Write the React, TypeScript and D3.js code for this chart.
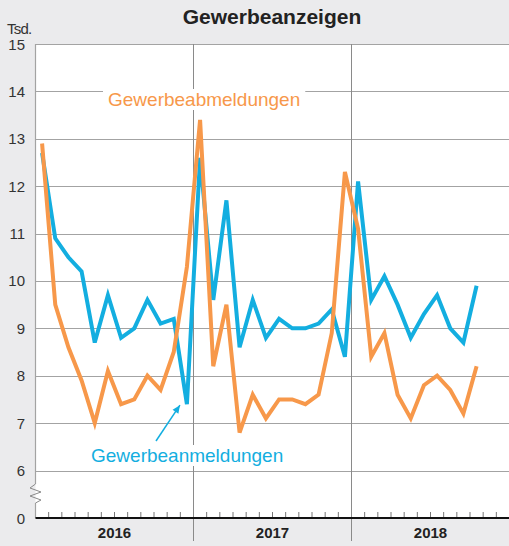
import React, { useEffect, useRef } from 'react';
import * as d3 from 'd3';

const years = ['2016', '2017', '2018'];
const yTicks = [6, 7, 8, 9, 10, 11, 12, 13, 14, 15];
// Gewerbeanmeldungen, Jan 2016 - Okt 2018 (Tsd.)
const anmeldungen = [
  12.7, 10.9, 10.5, 10.2, 8.7, 9.7, 8.8, 9.0, 9.6, 9.1, 9.2, 7.4,
  12.6, 9.6, 11.7, 8.6, 9.6, 8.8, 9.2, 9.0, 9.0, 9.1, 9.4, 8.4,
  12.1, 9.6, 10.1, 9.5, 8.8, 9.3, 9.7, 9.0, 8.7, 9.9,
];
// Gewerbeabmeldungen
const abmeldungen = [
  12.9, 9.5, 8.6, 7.9, 7.0, 8.1, 7.4, 7.5, 8.0, 7.7, 8.5, 10.3,
  13.4, 8.2, 9.5, 6.8, 7.6, 7.1, 7.5, 7.5, 7.4, 7.6, 8.9, 12.3,
  11.1, 8.4, 8.9, 7.6, 7.1, 7.8, 8.0, 7.7, 7.2, 8.2,
];

const BLUE = '#13aee0';
const ORANGE = '#f7984a';
const GRID = '#a3a3a3';
const FONT = 'Liberation Sans, Arial, Helvetica, sans-serif';

const App: React.FC = () => {
  const ref = useRef<SVGSVGElement | null>(null);

  useEffect(() => {
    if (!ref.current) return;
    const width = 509;
    const height = 546;
    const left = 35.5;
    const right = 509.5;
    const top = 44;
    const y6 = 470.5;
    const base = 518;

    const svg = d3.select(ref.current);
    svg.selectAll('*').remove();
    svg.attr('width', width).attr('height', height);

    svg.append('rect').attr('width', width).attr('height', height).attr('fill', '#ebebed');

    const x = d3.scaleLinear().domain([0, 36]).range([left, right]);
    const y = d3.scaleLinear().domain([6, 15]).range([y6, top]);

    // plot area
    svg.append('rect')
      .attr('x', left).attr('y', top)
      .attr('width', right - left).attr('height', base - top)
      .attr('fill', '#fff');

    // horizontal grid
    svg.selectAll('.grid')
      .data(yTicks)
      .enter()
      .append('line')
      .attr('x1', left).attr('x2', right)
      .attr('y1', (d) => Math.round(y(d)) + 0.5)
      .attr('y2', (d) => Math.round(y(d)) + 0.5)
      .attr('stroke', GRID)
      .attr('stroke-width', 1.2);

    // year separators
    svg.selectAll('.yearline')
      .data([12, 24])
      .enter()
      .append('line')
      .attr('x1', (d) => x(d)).attr('x2', (d) => x(d))
      .attr('y1', top).attr('y2', 541)
      .attr('stroke', '#8a8a8a')
      .attr('stroke-width', 1);

    // month ticks
    const months = d3.range(1, 36).filter((m) => m % 12 !== 0);
    svg.selectAll('.mtick')
      .data(months)
      .enter()
      .append('line')
      .attr('x1', (d) => x(d)).attr('x2', (d) => x(d))
      .attr('y1', base - 6).attr('y2', base)
      .attr('stroke', '#777')
      .attr('stroke-width', 1);

    // left axis with break
    svg.append('line')
      .attr('x1', left).attr('x2', left)
      .attr('y1', top).attr('y2', 484)
      .attr('stroke', GRID).attr('stroke-width', 1.2);
    svg.append('line')
      .attr('x1', left).attr('x2', left)
      .attr('y1', 503).attr('y2', base)
      .attr('stroke', GRID).attr('stroke-width', 1.2);
    svg.append('path')
      .attr('d', 'M35.5,484 L30,488 L41,492 L30,496 L41,500 L35.5,503')
      .attr('fill', 'none')
      .attr('stroke', '#8a8a8a')
      .attr('stroke-width', 1);

    // baseline
    svg.append('line')
      .attr('x1', left).attr('x2', right)
      .attr('y1', base).attr('y2', base)
      .attr('stroke', '#111').attr('stroke-width', 2);

    // y labels
    svg.selectAll('.ylab')
      .data(yTicks)
      .enter()
      .append('text')
      .attr('x', 25)
      .attr('y', (d) => y(d) + 5.5)
      .attr('text-anchor', 'end')
      .attr('font-family', FONT)
      .attr('font-size', 15)
      .attr('fill', '#333')
      .text((d) => d);
    svg.append('text')
      .attr('x', 25).attr('y', base + 5.5)
      .attr('text-anchor', 'end')
      .attr('font-family', FONT).attr('font-size', 15).attr('fill', '#333')
      .text('0');
    svg.append('text')
      .attr('x', 7).attr('y', 34)
      .attr('font-family', FONT).attr('font-size', 15).attr('fill', '#333')
      .attr('letter-spacing', -0.8)
      .text('Tsd.');

    // year labels
    svg.selectAll('.ylabel')
      .data(years)
      .enter()
      .append('text')
      .attr('x', (_, i) => x(i * 12 + 6))
      .attr('y', 538)
      .attr('text-anchor', 'middle')
      .attr('font-family', FONT)
      .attr('font-weight', 'bold')
      .attr('font-size', 15)
      .attr('fill', '#222')
      .text((d) => d);

    // title
    svg.append('text')
      .attr('x', 272).attr('y', 24)
      .attr('text-anchor', 'middle')
      .attr('font-family', FONT)
      .attr('font-weight', 'bold')
      .attr('font-size', 21)
      .attr('fill', '#222')
      .text('Gewerbeanzeigen');

    // series
    const line = d3.line<number>()
      .x((_, i) => x(i + 0.5))
      .y((d) => y(d));

    svg.append('path')
      .datum(anmeldungen)
      .attr('d', line)
      .attr('fill', 'none')
      .attr('stroke', BLUE)
      .attr('stroke-width', 4)
      .attr('stroke-linejoin', 'miter');

    svg.append('path')
      .datum(abmeldungen)
      .attr('d', line)
      .attr('fill', 'none')
      .attr('stroke', ORANGE)
      .attr('stroke-width', 4)
      .attr('stroke-linejoin', 'miter');

    // series labels
    const addLabel = (text: string, tx: number, ty: number, color: string) => {
      const g = svg.append('g');
      const t = g.append('text')
        .attr('x', tx).attr('y', ty)
        .attr('font-family', FONT)
        .attr('font-size', 19)
        .attr('fill', color)
        .text(text);
      const bb = (t.node() as SVGTextElement).getBBox();
      g.insert('rect', 'text')
        .attr('x', bb.x - 5).attr('y', bb.y)
        .attr('width', bb.width + 10).attr('height', bb.height)
        .attr('fill', '#fff');
    };
    addLabel('Gewerbeabmeldungen', 108, 106, ORANGE);
    addLabel('Gewerbeanmeldungen', 91, 462, BLUE);

    // arrow to Dec 2016 value
    const tipX = x(11.5) - 7;
    const tipY = y(anmeldungen[11]) + 1;
    svg.append('line')
      .attr('x1', 156).attr('y1', 441)
      .attr('x2', tipX).attr('y2', tipY)
      .attr('stroke', BLUE).attr('stroke-width', 1.5);
    const ang = Math.atan2(tipY - 441, tipX - 156);
    const ah = 8;
    const aw = 3.5;
    const bx = tipX - ah * Math.cos(ang);
    const by = tipY - ah * Math.sin(ang);
    svg.append('path')
      .attr('d', `M${tipX},${tipY} L${bx + aw * Math.sin(ang)},${by - aw * Math.cos(ang)} L${bx - aw * Math.sin(ang)},${by + aw * Math.cos(ang)} Z`)
      .attr('fill', BLUE);
  }, []);

  return (
    <svg ref={ref} style={{ position: 'absolute', left: 0, top: 0 }}></svg>
  );
};

export default App;
